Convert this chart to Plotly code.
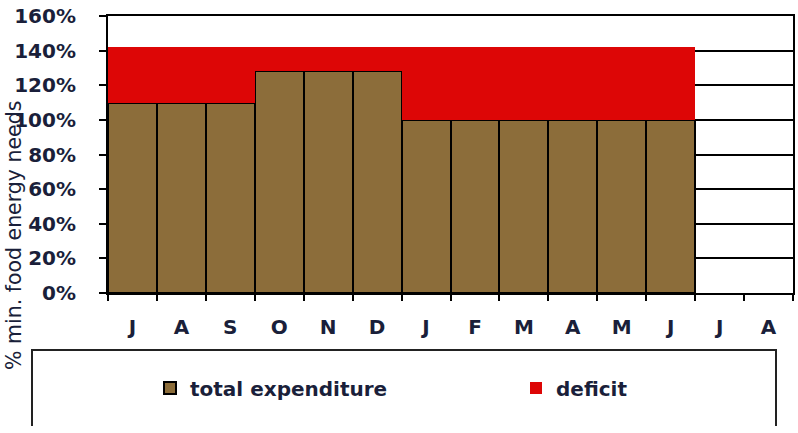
import plotly.graph_objects as go

months = ["J", "A", "S", "O", "N", "D", "J", "F", "M", "A", "M", "J", "J", "A"]
total_expenditure = [1.10, 1.10, 1.10, 1.28, 1.28, 1.28, 1.00, 1.00, 1.00, 1.00, 1.00, 1.00, None, None]
deficit = [0.32, 0.32, 0.32, 0.14, 0.14, 0.14, 0.42, 0.42, 0.42, 0.42, 0.42, 0.42, None, None]
y_ticks = [0, 0.2, 0.4, 0.6, 0.8, 1.0, 1.2, 1.4, 1.6]

W, H = 798, 433
L, R, T, B = 108, 5, 16, 140
PW, PH = W - L - R, H - T - B

BROWN = "#8c6d3a"
RED = "#dd0606"
INK = "#1a1f3a"


def px(x):
    return (x - L) / PW


def py(y):
    return (H - B - y) / PH


x = list(range(len(months)))

fig = go.Figure()
fig.add_trace(
    go.Bar(
        x=x,
        y=total_expenditure,
        name="total expenditure",
        legend="legend",
        marker={"color": BROWN, "line": {"color": "#000000", "width": 2}},
    )
)
fig.add_trace(
    go.Bar(
        x=x,
        y=deficit,
        name="deficit",
        legend="legend2",
        marker={"color": RED, "line": {"color": RED, "width": 0}},
    )
)

tick_font = {"family": "DejaVu Sans", "size": 20, "color": INK, "weight": "bold"}
legend_font = {"family": "DejaVu Sans", "size": 20, "color": INK, "weight": "bold"}


def legend_at(left):
    return {
        "orientation": "h",
        "xref": "container",
        "yref": "container",
        "x": left / W,
        "y": 1 - 388 / H,
        "xanchor": "left",
        "yanchor": "middle",
        "bgcolor": "rgba(0,0,0,0)",
        "font": legend_font,
    }


fig.update_layout(
    width=W,
    height=H,
    margin={"l": L, "r": R, "t": T, "b": B, "pad": 0, "autoexpand": False},
    barmode="stack",
    bargap=0,
    paper_bgcolor="white",
    plot_bgcolor="white",
    showlegend=True,
    legend=legend_at(150),
    legend2=legend_at(516),
    xaxis={
        "range": [-0.5, len(months) - 0.5],
        "automargin": False,
        "tickmode": "array",
        "tickvals": x,
        "ticktext": months,
        "ticks": "",
        "tickfont": tick_font,
        "ticklabelstandoff": 15,
        "showline": True,
        "linecolor": "#000000",
        "linewidth": 2,
        "mirror": True,
        "showgrid": False,
        "zeroline": False,
        "minor": {
            "tickmode": "linear",
            "tick0": -0.5,
            "dtick": 1,
            "ticks": "outside",
            "ticklen": 6,
            "tickwidth": 2,
            "tickcolor": "#000000",
            "showgrid": False,
        },
    },
    yaxis={
        "range": [0, 1.6],
        "automargin": False,
        "tickmode": "array",
        "tickvals": y_ticks,
        "tickformat": ".0%",
        "ticks": "outside",
        "ticklen": 7,
        "tickwidth": 2,
        "tickcolor": "#000000",
        "tickfont": tick_font,
        "ticklabelstandoff": 19,
        "showline": True,
        "linecolor": "#000000",
        "linewidth": 2,
        "mirror": True,
        "showgrid": True,
        "gridcolor": "#000000",
        "gridwidth": 1.5,
        "zeroline": False,
    },
    annotations=[
        {
            "text": "% min. food energy needs",
            "xref": "paper",
            "yref": "paper",
            "x": px(14),
            "y": py(236),
            "xanchor": "center",
            "yanchor": "middle",
            "textangle": -90,
            "showarrow": False,
            "font": {"family": "DejaVu Sans", "size": 20.5, "color": INK},
        }
    ],
    shapes=[
        {
            "type": "path",
            "xref": "paper",
            "yref": "paper",
            "path": f"M {px(32)},{py(426)} L {px(32)},{py(350)} L {px(776)},{py(350)} L {px(776)},{py(426)}",
            "line": {"color": "#222222", "width": 2},
        }
    ],
)

# the page body has a default 8px margin; drop it so the chart sits at 0,0
fig.write_html(
    "out.html",
    config={"displayModeBar": False},
    post_script="document.body.style.margin = '0';",
)
